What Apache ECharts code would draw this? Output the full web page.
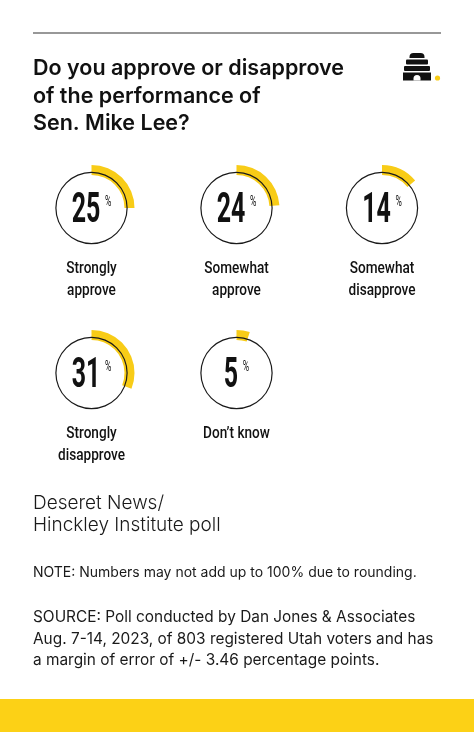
<!DOCTYPE html>
<html>
<head>
<meta charset="utf-8">
<script src="https://cdn.jsdelivr.net/npm/echarts@6/dist/echarts.min.js"></script>
<style>
html,body{margin:0;padding:0;background:#fff;}
#chart{width:474px;height:732px;}
</style>
</head>
<body>
<div id="chart"></div>
<script>
const categories = ['Strongly\napprove', 'Somewhat\napprove', 'Somewhat\ndisapprove', 'Strongly\ndisapprove', 'Don\u2019t know'];
const values = [25, 24, 14, 31, 5];
const titleLines = ['Do you approve or disapprove', 'of the performance of', 'Sen. Mike Lee?'];
const sourceLines = ['Deseret News/', 'Hinckley Institute poll'];
const noteText = 'NOTE: Numbers may not add up to 100% due to rounding.';
const sourceText = ['SOURCE: Poll conducted by Dan Jones & Associates', 'Aug. 7-14, 2023, of 803 registered Utah voters and has', 'a margin of error of +/- 3.46 percentage points.'];

const YELLOW = '#f8cc17';
const colX = [91.5, 236.5, 382];
const rowY = [208, 373];
const condFont = 'Roboto, "Noto Sans", sans-serif';
const bodyFont = 'Inter, "Noto Sans", sans-serif';

const chart = echarts.init(document.getElementById('chart'), null, {renderer: 'canvas'});

const series = [];
const graphics = [];
values.forEach((v, i) => {
  const cx = colX[i % 3];
  const cy = rowY[Math.floor(i / 3)];
  series.push({
    type: 'pie', silent: true, center: [cx, cy], radius: [33, 43],
    startAngle: 90, clockwise: true, animation: false,
    label: {show: false}, labelLine: {show: false},
    data: [
      {value: v, itemStyle: {color: YELLOW}},
      {value: 100 - v, itemStyle: {color: 'rgba(0,0,0,0)'}}
    ]
  });
  series.push({
    type: 'pie', silent: true, center: [cx, cy], radius: [35, 36.2],
    animation: false, labelLine: {show: false}, label: {show: false},
    data: [{value: 1, itemStyle: {color: '#1a1a1a'}}]
  });
  // value label (condensed via scaleX)
  graphics.push({
    type: 'text', x: cx, y: cy + 3.5, scaleX: 0.58, silent: true,
    style: {
      text: '{n|' + v + '}{p|%}', align: 'center', verticalAlign: 'middle',
      rich: {
        n: {font: 'bold 43px ' + condFont, fill: '#111', lineHeight: 33},
        p: {font: '400 15px ' + condFont, fill: '#111', verticalAlign: 'top', lineHeight: 15, padding: [0, 0, 0, 8]}
      }
    }
  });
  graphics.push({
    type: 'text', x: cx, y: cy + 50, scaleX: 0.8, silent: true,
    style: {text: categories[i], align: 'center', verticalAlign: 'top', font: '500 17px ' + condFont, fill: '#111', lineHeight: 22}
  });
});

graphics.push(
  {type: 'rect', shape: {x: 33, y: 32.5, width: 408, height: 1}, style: {fill: '#333'}},
  {type: 'rect', shape: {x: 0, y: 699, width: 474, height: 33}, style: {fill: '#fcd116'}}
);
titleLines.forEach((t, k) => graphics.push({
  type: 'text', left: 33, top: 58 + k * 27.5,
  style: {text: t, font: '600 21.5px ' + bodyFont, fill: '#111'}
}));
sourceLines.forEach((t, k) => graphics.push({
  type: 'text', left: 33, top: 494 + k * 22,
  style: {text: t, font: '300 19px ' + bodyFont, fill: '#1a1a1a'}
}));
graphics.push({type: 'text', left: 33, top: 566, style: {text: noteText, font: '400 14px ' + bodyFont, fill: '#1a1a1a'}});
sourceText.forEach((t, k) => graphics.push({
  type: 'text', left: 33, top: 610 + k * 21.5,
  style: {text: t, font: '400 15.4px ' + bodyFont, fill: '#1a1a1a'}
}));
// beehive logo
graphics.push(
  {type: 'rect', shape: {x: 409.5, y: 53, width: 15, height: 5, r: [4, 4, 0, 0]}, style: {fill: '#111'}},
  {type: 'rect', shape: {x: 406, y: 59.5, width: 22, height: 5, r: 1}, style: {fill: '#111'}},
  {type: 'rect', shape: {x: 404, y: 66, width: 26, height: 5, r: 1}, style: {fill: '#111'}},
  {type: 'rect', shape: {x: 403, y: 72.5, width: 28, height: 8}, style: {fill: '#111'}},
  {type: 'rect', shape: {x: 413.5, y: 75, width: 7, height: 5.5, r: [3.5, 3.5, 0, 0]}, style: {fill: '#fff'}},
  {type: 'circle', shape: {cx: 437.5, cy: 78, r: 2.6}, style: {fill: YELLOW}}
);

chart.setOption({
  animation: false,
  backgroundColor: '#fff',
  series: series,
  graphic: graphics
});
</script>
</body>
</html>
